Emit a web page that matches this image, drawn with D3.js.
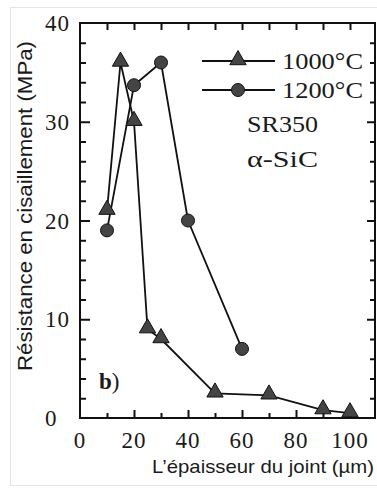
<!DOCTYPE html>
<html>
<head>
<meta charset="utf-8">
<script src="https://cdn.jsdelivr.net/npm/d3@7"></script>
<style>
  html, body { margin: 0; padding: 0; background: #fff; }
  svg { display: block; }
</style>
</head>
<body>
<svg id="chart" width="377" height="489"></svg>
<script>
// Shear strength of SR350 / α-SiC joints versus joint thickness
const thickness1000 = [10, 15, 20, 25, 30, 50, 70, 90, 100];
const strength1000  = [21, 36, 30, 9, 8, 2.5, 2.3, 0.8, 0.5];
const thickness1200 = [10, 20, 30, 40, 60];
const strength1200  = [19, 33.7, 36, 20, 7];
const xTickLabels = [0, 20, 40, 60, 80, 100];
const yTickLabels = [0, 10, 20, 30, 40];
const seriesNames = ["1000°C", "1200°C"];
const noteLines = ["SR350", "α-SiC"];

const svg = d3.select("#chart");
const L = 80, R = 375, T = 23, B = 418;

const x = d3.scaleLinear().domain([0, 110]).range([L, L + 297]);
const y = d3.scaleLinear().domain([0, 40]).range([B, T]);

// faint scan border
svg.append("rect").attr("x", 10.5).attr("y", 7.5).attr("width", 370).attr("height", 478)
  .attr("fill", "none").attr("stroke", "#e4e4e4").attr("stroke-width", 1);

const serif = "'Liberation Serif', 'Times New Roman', serif";
const sans = "'Liberation Sans', Arial, sans-serif";
const ink = "#1a1a1a";

function styleAxis(g) {
  g.select(".domain").remove();
  g.selectAll("line").attr("stroke", "#111").attr("stroke-width", 2);
}

// ticks (all pointing inward)
svg.append("g").attr("transform", `translate(0,${B})`)
  .call(d3.axisBottom(x).tickValues(d3.range(10, 110, 20)).tickSize(-5).tickFormat(""))
  .call(styleAxis);
svg.append("g").attr("transform", `translate(0,${B})`)
  .call(d3.axisBottom(x).tickValues(d3.range(20, 110, 20)).tickSize(-8).tickFormat(""))
  .call(styleAxis);
svg.append("g").attr("transform", `translate(0,${T})`)
  .call(d3.axisTop(x).tickValues(d3.range(10, 110, 10)).tickSize(-7).tickFormat(""))
  .call(styleAxis);
svg.append("g").attr("transform", `translate(${L},0)`)
  .call(d3.axisLeft(y).tickValues(d3.range(2, 40, 2).filter(v => v % 10 !== 0)).tickSize(-6).tickFormat(""))
  .call(styleAxis);
svg.append("g").attr("transform", `translate(${L},0)`)
  .call(d3.axisLeft(y).tickValues([10, 20, 30]).tickSize(-10).tickFormat(""))
  .call(styleAxis);
svg.append("g").attr("transform", `translate(${R},0)`)
  .call(d3.axisRight(y).tickValues(d3.range(2, 40, 2).filter(v => v % 10 !== 0)).tickSize(-5).tickFormat(""))
  .call(styleAxis);
svg.append("g").attr("transform", `translate(${R},0)`)
  .call(d3.axisRight(y).tickValues([10, 20, 30]).tickSize(-8).tickFormat(""))
  .call(styleAxis);

// frame
svg.append("path")
  .attr("d", `M${L},${T}H${R}V${B}H${L}Z`)
  .attr("fill", "none").attr("stroke", "#111").attr("stroke-width", 2);

// tick labels
svg.append("g").selectAll("text").data(xTickLabels).join("text")
  .attr("x", d => x(d)).attr("y", 448)
  .attr("text-anchor", "middle")
  .attr("font-family", serif).attr("font-size", 23).attr("letter-spacing", 1)
  .attr("fill", ink).text(d => d);
svg.append("g").selectAll("text").data(yTickLabels).join("text")
  .attr("x", 45).attr("y", d => y(d) + 8)
  .attr("text-anchor", "start")
  .attr("font-family", serif).attr("font-size", 23).attr("letter-spacing", 1)
  .attr("fill", ink).text(d => d);

// axis titles
svg.append("text")
  .attr("x", 152).attr("y", 473)
  .attr("font-family", sans).attr("font-size", 19).attr("fill", ink)
  .attr("textLength", 222).attr("lengthAdjust", "spacingAndGlyphs")
  .text("L’épaisseur du joint (µm)");
svg.append("text")
  .attr("transform", "translate(32,206) rotate(-90)")
  .attr("text-anchor", "middle")
  .attr("font-family", sans).attr("font-size", 20).attr("fill", ink)
  .attr("textLength", 330).attr("lengthAdjust", "spacingAndGlyphs")
  .text("Résistance en cisaillement (MPa)");

// series
const line = d3.line().x(d => x(d[0])).y(d => y(d[1]));
const pts1000 = thickness1000.map((t, i) => [t, strength1000[i]]);
const pts1200 = thickness1200.map((t, i) => [t, strength1200[i]]);

const tri = d3.symbol().type(d3.symbolTriangle).size(115);

svg.append("path").attr("d", line(pts1000))
  .attr("fill", "none").attr("stroke", "#111").attr("stroke-width", 1.8);
svg.append("path").attr("d", line(pts1200))
  .attr("fill", "none").attr("stroke", "#111").attr("stroke-width", 1.8);

svg.append("g").selectAll("path").data(pts1000).join("path")
  .attr("d", tri)
  .attr("transform", d => `translate(${x(d[0])},${y(d[1]) - 1})`)
  .attr("fill", "#444").attr("stroke", "#111").attr("stroke-width", 1);
svg.append("g").selectAll("circle").data(pts1200).join("circle")
  .attr("cx", d => x(d[0])).attr("cy", d => y(d[1])).attr("r", 6.5)
  .attr("fill", "#444").attr("stroke", "#111").attr("stroke-width", 1);

// legend
const legend = svg.append("g");
const legY = [61, 90];
legY.forEach((ly, i) => {
  legend.append("line").attr("x1", 202).attr("x2", 275).attr("y1", ly).attr("y2", ly)
    .attr("stroke", "#111").attr("stroke-width", 1.8);
  if (i === 0) {
    legend.append("path").attr("d", tri).attr("transform", `translate(238,${ly - 1})`)
      .attr("fill", "#444").attr("stroke", "#111").attr("stroke-width", 1);
  } else {
    legend.append("circle").attr("cx", 238).attr("cy", ly).attr("r", 6.5)
      .attr("fill", "#444").attr("stroke", "#111").attr("stroke-width", 1);
  }
  legend.append("text").attr("x", 282).attr("y", ly + 8)
    .attr("font-family", serif).attr("font-size", 23)
    .attr("textLength", 81).attr("lengthAdjust", "spacingAndGlyphs")
    .attr("fill", ink).text(seriesNames[i]);
});
[132, 167].forEach((ny, i) => {
  legend.append("text").attr("x", 247).attr("y", ny)
    .attr("font-family", serif).attr("font-size", 23)
    .attr("textLength", 71).attr("lengthAdjust", "spacingAndGlyphs")
    .attr("fill", ink).text(noteLines[i]);
});

// panel label
const panel = svg.append("text").attr("x", 99).attr("y", 389)
  .attr("font-family", serif).attr("font-size", 23).attr("fill", ink);
panel.append("tspan").attr("font-weight", "bold").text("b");
panel.append("tspan").text(")");
</script>
</body>
</html>
